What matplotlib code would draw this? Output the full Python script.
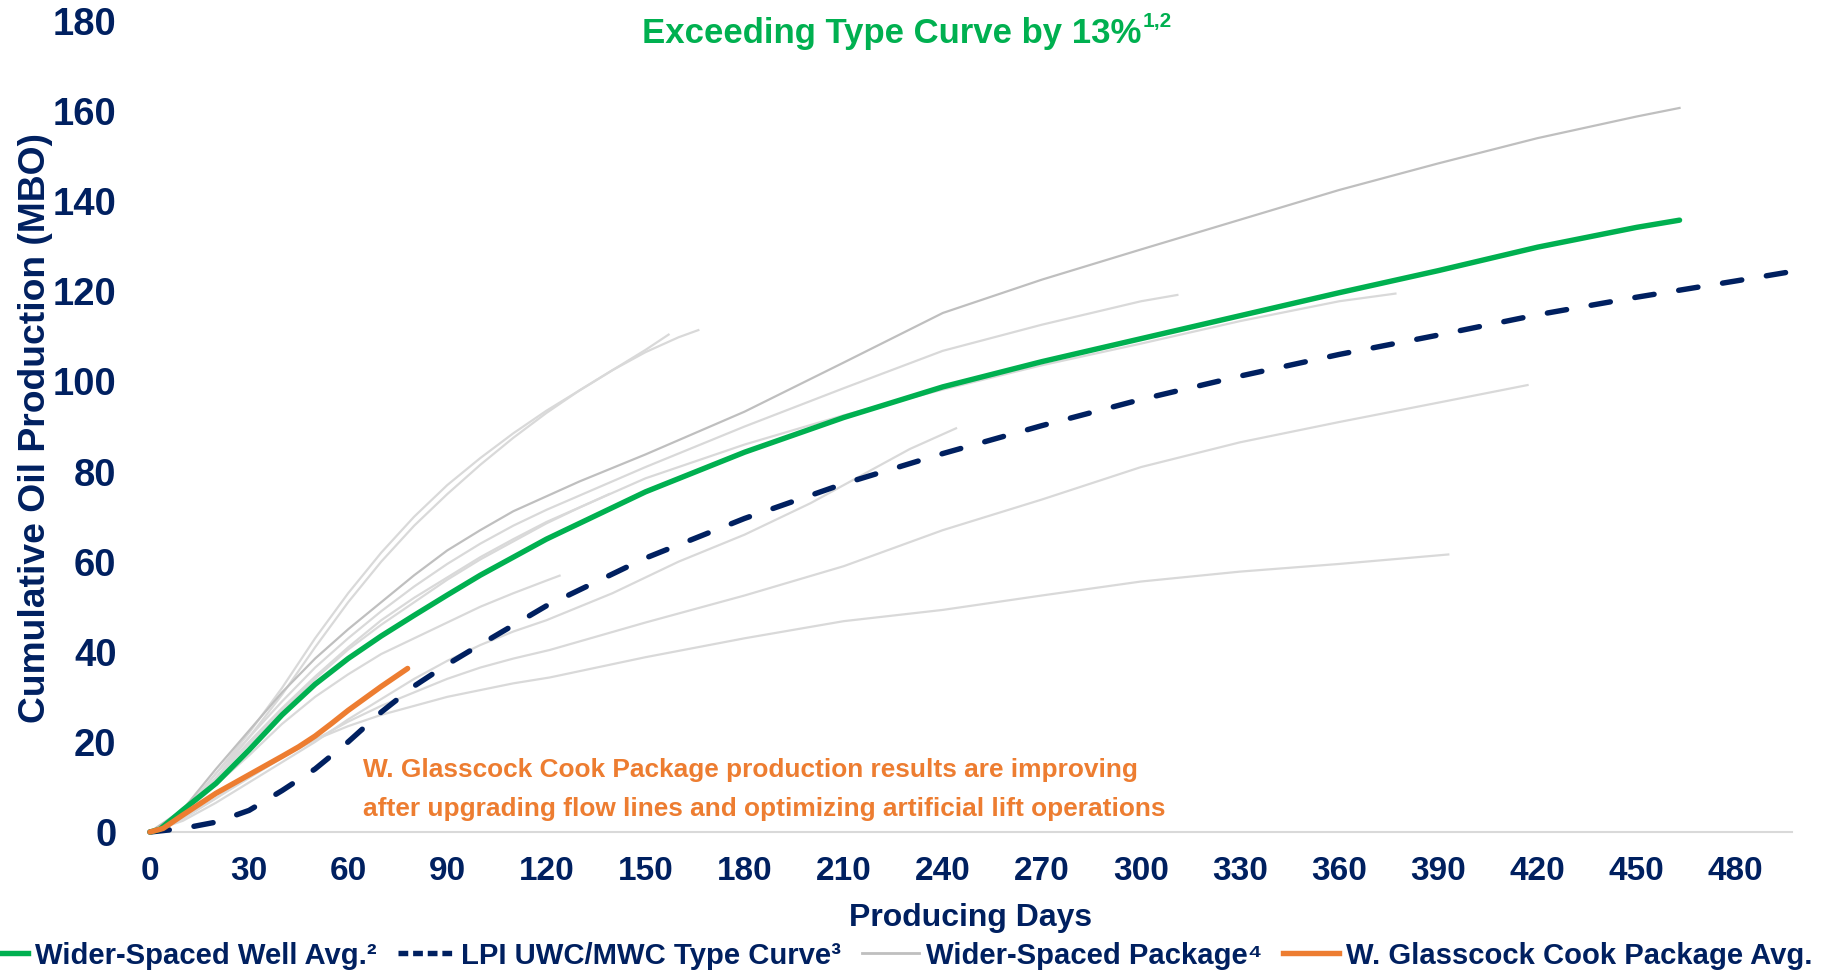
import matplotlib
matplotlib.use('Agg')
import matplotlib.pyplot as plt
from matplotlib.lines import Line2D

plt.rcParams['font.family'] = ['Liberation Sans', 'DejaVu Sans']
plt.rcParams['font.weight'] = 'bold'
plt.rcParams['axes.labelweight'] = 'bold'

NAVY = '#002060'
GREEN = '#00B050'
ORANGE = '#ED7D31'
GRAY_DARK = '#BFBFBF'
GRAY_LIGHT = '#D9D9D9'

# ---- data (producing days, cumulative oil MBO) ----
avg_days = [0, 3, 10, 20, 30, 40, 50, 60, 70, 80, 90, 100, 110, 120, 150, 180,
            210, 240, 270, 300, 330, 360, 390, 420, 450, 463]
avg_mbo = [0, 0.6, 4.9, 10.8, 18.2, 26.0, 32.8, 38.5, 43.5, 48.1, 52.6, 57.0,
           61.0, 65.0, 75.5, 84.3, 92.0, 98.8, 104.4, 109.5, 114.6, 119.7,
           124.6, 129.8, 134.2, 135.8]

tc_days = [0, 5, 10, 20, 30, 40, 50, 60, 70, 80, 90, 100, 110, 120, 150, 180,
           210, 240, 270, 300, 330, 360, 390, 420, 450, 480, 497]
tc_mbo = [0, 0.4, 0.8, 2.2, 4.8, 9.2, 14.0, 20.0, 26.6, 32.4, 37.2, 41.6, 45.9,
          50.2, 60.8, 69.6, 77.3, 84.0, 90.2, 96.0, 101.2, 106.0, 110.3, 114.8,
          118.7, 122.3, 124.4]

glass_days = [0, 4, 10, 20, 30, 40, 45, 50, 55, 60, 70, 78]
glass_mbo = [0, 0.8, 3.8, 8.6, 12.7, 16.8, 18.9, 21.3, 24.1, 27.0, 32.3, 36.3]

# wider-spaced package wells
w1_days = [0, 10, 20, 30, 40, 50, 60, 70, 80, 90, 100, 110, 120, 130, 150, 180,
           210, 240, 270, 300, 330, 360, 390, 420, 450, 463]
w1_mbo = [0, 5, 14, 22.5, 31, 38.5, 45, 51, 57, 62.5, 67, 71.2, 74.5, 77.8, 83.8,
          93.3, 104.2, 115.2, 122.6, 129.3, 135.9, 142.5, 148.4, 154.0, 158.8, 160.7]

w2_days = [0, 10, 20, 30, 40, 50, 60, 70, 80, 90, 100, 110, 120, 150, 180, 210,
           240, 270, 300, 311]
w2_mbo = [0, 4.5, 13, 21, 29, 36.5, 43, 49, 54.5, 59.5, 64, 68, 71.5, 81, 90,
          98.5, 106.8, 112.6, 117.8, 119.2]

w3_days = [0, 10, 20, 30, 40, 50, 60, 70, 80, 90, 100, 110, 120, 150, 180, 210,
           240, 270, 300, 330, 360, 377]
w3_mbo = [0, 4, 12, 20, 27.5, 34.5, 41, 47, 52, 56.5, 61, 65, 68.8, 78.5, 86,
          92.5, 98.2, 103.6, 108.4, 113.4, 117.8, 119.5]

w4_days = [0, 10, 20, 30, 40, 50, 60, 70, 80, 90, 100, 110, 121, 150, 180, 210,
           240, 270, 300, 330, 360, 390, 417]
w4_mbo = [0, 3, 7.5, 12, 16.5, 20.5, 24.5, 28, 31, 34, 36.5, 38.5, 40.4, 46.5,
          52.5, 59, 67, 73.8, 81, 86.5, 91, 95.3, 99.2]

w5_days = [0, 10, 20, 30, 40, 50, 60, 70, 80, 90, 100, 110, 121, 150, 180, 210,
           240, 270, 300, 330, 360, 393]
w5_mbo = [0, 3, 7.5, 12.5, 17, 20.5, 23.5, 26, 28, 30, 31.5, 33, 34.3, 38.8, 43,
          46.8, 49.3, 52.5, 55.6, 57.8, 59.5, 61.6]

w6_days = [0, 10, 20, 30, 40, 50, 60, 70, 80, 90, 100, 110, 120, 130, 140, 150, 157]
w6_mbo = [0, 4, 13, 22, 32, 43, 53, 62, 70, 77, 83, 88.5, 93.5, 98, 102.5, 107, 110.4]

w7_days = [0, 10, 20, 30, 40, 50, 60, 70, 80, 90, 100, 110, 120, 130, 140, 150,
           160, 166]
w7_mbo = [0, 3.5, 12, 21, 30.5, 41, 51, 60, 68, 75, 81.5, 87.5, 93, 98, 102.5,
          106.5, 109.8, 111.4]

w8_days = [0, 10, 20, 30, 40, 50, 60, 70, 80, 90, 100, 110, 120, 130, 139]
w8_mbo = [0, 4, 12, 19.5, 27, 34, 40.5, 46, 51, 56, 60.5, 64.5, 68.5, 72, 75]

w9_days = [0, 10, 20, 30, 40, 50, 60, 70, 80, 90, 100, 110, 120, 124]
w9_mbo = [0, 4, 10.5, 17, 24, 30, 35, 39.5, 43, 46.5, 50, 53, 55.8, 56.9]

w10_days = [0, 10, 20, 30, 40, 50, 60, 70, 80, 90, 100, 110, 120, 130, 140, 150,
            160, 170, 180, 190, 200, 210, 220, 230, 244]
w10_mbo = [0, 2.5, 6.5, 11, 15.5, 20, 25, 29.5, 34, 38, 41.5, 44.5, 47, 50, 53,
           56.5, 60, 63, 66, 69.5, 73, 77, 81, 85, 89.6]

light_wells = [(w2_days, w2_mbo), (w3_days, w3_mbo), (w4_days, w4_mbo),
               (w5_days, w5_mbo), (w6_days, w6_mbo), (w7_days, w7_mbo),
               (w8_days, w8_mbo), (w9_days, w9_mbo), (w10_days, w10_mbo)]

x_ticks = list(range(0, 481, 30))
y_ticks = list(range(0, 181, 20))

legend_labels = ['Wider-Spaced Well Avg.\u00b2', 'LPI UWC/MWC Type Curve\u00b3',
                 'Wider-Spaced Package\u2074', 'W. Glasscock Cook Package Avg.']

# ---- figure ----
fig = plt.figure(figsize=(18.35, 9.72), dpi=100)
ax = fig.add_axes([0.0817, 0.144, 0.8948, 0.8344])

for d, v in light_wells:
    ax.plot(d, v, color=GRAY_LIGHT, lw=1.6, zorder=2)
ax.plot(w1_days, w1_mbo, color=GRAY_DARK, lw=1.6, zorder=2)

ax.plot(tc_days, tc_mbo, color=NAVY, lw=3.9, linestyle=(0, (3.6, 4.6)),
        dash_capstyle='round', zorder=3, clip_on=False)
ax.plot(avg_days, avg_mbo, color=GREEN, lw=3.9, solid_capstyle='round',
        zorder=4, clip_on=False)
ax.plot(glass_days, glass_mbo, color=ORANGE, lw=3.9, solid_capstyle='round',
        zorder=5, clip_on=False)

ax.set_xlim(0, 497)
ax.set_ylim(0, 180)
ax.set_xticks(x_ticks)
ax.set_yticks(y_ticks)
ax.tick_params(axis='both', length=0, labelcolor=NAVY)
ax.tick_params(axis='y', pad=24, labelsize=27.5)
ax.tick_params(axis='x', pad=17.5, labelsize=24)
for s in ['top', 'right', 'left']:
    ax.spines[s].set_visible(False)
ax.spines['bottom'].set_color(GRAY_LIGHT)
ax.spines['bottom'].set_linewidth(1.5)
ax.spines['bottom'].set_zorder(1)

ax.set_xlabel('Producing Days', fontsize=23, color=NAVY)
ax.xaxis.set_label_coords(0.5, -0.1154)
ax.xaxis.label.set_va('baseline')
ax.set_ylabel('Cumulative Oil Production (MBO)', fontsize=26.8, color=NAVY)
ax.yaxis.set_label_coords(-0.0641, 0.498)
ax.yaxis.label.set_va('baseline')

# annotation
ax.text(64.5, 12.2, 'W. Glasscock Cook Package production results are improving',
        fontsize=18.9, color=ORANGE, va='baseline', ha='left')
ax.text(64.5, 3.6, 'after upgrading flow lines and optimizing artificial lift operations',
        fontsize=18.9, color=ORANGE, va='baseline', ha='left')

# title
fig.text(0.6218, 0.9555, 'Exceeding Type Curve by 13%', fontsize=25, color=GREEN,
         ha='right', va='baseline')
fig.text(0.6226, 0.9725, '1,2', fontsize=15, color=GREEN, ha='left', va='baseline')

handles = [Line2D([], [], color=GREEN, lw=3.9),
           Line2D([], [], color=NAVY, lw=3.9, linestyle=(0, (1.8, 0.9))),
           Line2D([], [], color=GRAY_DARK, lw=2),
           Line2D([], [], color=ORANGE, lw=3.9)]
fig.legend(handles, legend_labels, loc='center left', bbox_to_anchor=(-0.0153, 0.0168),
           ncol=4, frameon=False, fontsize=21.1, handlelength=1.92,
           handletextpad=0.24, columnspacing=0.72, borderpad=0, borderaxespad=0,
           labelcolor=NAVY)

fig.savefig('out.png', dpi=100)
